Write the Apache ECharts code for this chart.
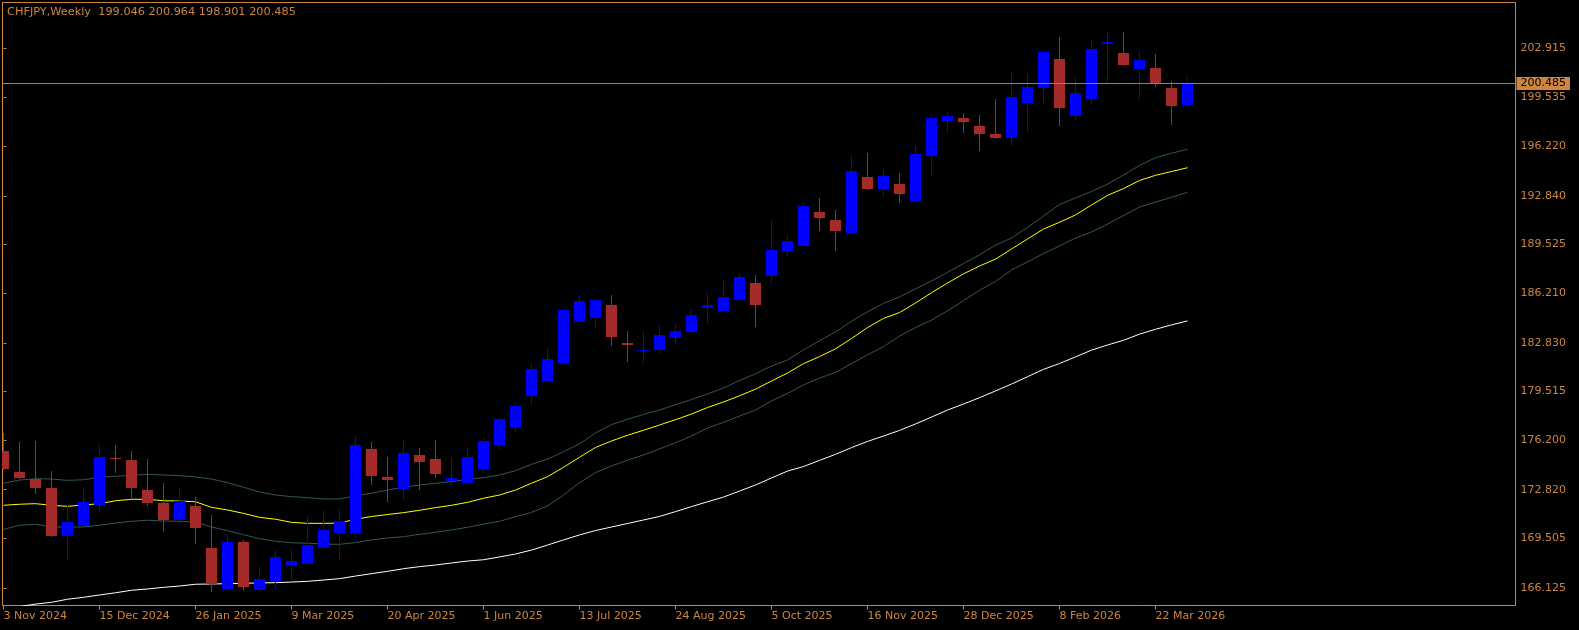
<!DOCTYPE html>
<html>
<head>
<meta charset="utf-8">
<script src="https://cdn.jsdelivr.net/npm/echarts@6.0.0/dist/echarts.min.js"></script>
<style>
html,body{margin:0;padding:0;background:#000;}
#chart{width:1579px;height:630px;}
</style>
</head>
<body>
<div id="chart"></div>
<script>
// ---- data ----
const symbolName = 'CHFJPY,Weekly';
const weeks = [
 '2024-11-03','2024-11-10','2024-11-17','2024-11-24','2024-12-01','2024-12-08','2024-12-15','2024-12-22','2024-12-29',
 '2025-01-05','2025-01-12','2025-01-19','2025-01-26','2025-02-02','2025-02-09','2025-02-16','2025-02-23',
 '2025-03-02','2025-03-09','2025-03-16','2025-03-23','2025-03-30','2025-04-06','2025-04-13','2025-04-20','2025-04-27',
 '2025-05-04','2025-05-11','2025-05-18','2025-05-25','2025-06-01','2025-06-08','2025-06-15','2025-06-22','2025-06-29',
 '2025-07-06','2025-07-13','2025-07-20','2025-07-27','2025-08-03','2025-08-10','2025-08-17','2025-08-24','2025-08-31',
 '2025-09-07','2025-09-14','2025-09-21','2025-09-28','2025-10-05','2025-10-12','2025-10-19','2025-10-26',
 '2025-11-02','2025-11-09','2025-11-16','2025-11-23','2025-11-30','2025-12-07','2025-12-14','2025-12-21','2025-12-28',
 '2026-01-04','2026-01-11','2026-01-18','2026-01-25','2026-02-01','2026-02-08','2026-02-15','2026-02-22',
 '2026-03-01','2026-03-08','2026-03-15','2026-03-22','2026-03-29','2026-04-05'
];
const opens = [175.46,174.03,173.57,172.94,169.67,170.35,171.78,174.99,174.85,172.80,171.92,170.78,171.71,168.85,166.06,169.26,165.99,166.60,167.69,167.78,168.87,169.87,169.87,175.59,173.69,172.89,175.19,174.91,173.41,173.28,174.23,175.87,177.09,179.23,180.25,181.45,184.27,184.54,185.41,182.82,182.29,182.36,183.18,183.59,185.22,185.02,185.77,186.91,187.40,189.10,189.45,191.74,191.20,190.31,194.13,193.31,193.65,192.49,195.56,197.94,198.15,197.60,197.06,196.80,199.17,200.21,202.16,198.30,199.44,203.21,202.57,201.50,201.55,200.19,199.046];
const highs = [176.66,176.07,176.14,174.10,171.85,172.99,175.87,175.87,175.46,174.91,173.28,172.94,172.33,171.10,169.80,169.39,167.62,168.71,168.78,171.05,171.46,171.53,176.48,176.07,175.05,176.21,175.66,176.21,174.98,175.73,176.34,177.71,178.73,181.45,182.48,185.13,186.09,185.81,186.09,183.63,183.63,184.04,184.11,185.13,186.22,187.13,187.59,187.45,191.20,190.18,192.35,192.69,191.88,195.63,195.76,194.60,194.40,196.24,198.35,198.55,198.49,198.35,199.44,201.35,201.14,202.71,203.66,200.94,203.39,204.00,204.00,202.71,202.51,200.67,200.964];
const lows = [174.15,173.53,172.53,169.60,167.96,170.26,171.21,173.98,172.28,171.71,169.96,170.50,169.14,165.85,165.94,165.92,165.87,166.06,166.60,167.69,168.78,168.03,169.49,173.14,171.98,172.14,172.82,173.64,173.09,173.20,173.96,175.52,176.68,178.59,180.20,181.38,184.18,183.86,182.63,181.54,181.48,182.09,182.70,183.45,184.13,184.95,185.68,183.93,186.93,188.70,189.36,190.45,189.10,190.25,193.25,192.78,192.35,192.42,194.13,197.12,197.12,195.90,196.71,196.26,197.21,199.05,197.62,198.03,199.12,200.46,201.71,199.46,200.28,197.69,198.901];
const closes = [174.23,173.62,172.94,169.67,170.62,171.98,175.05,174.95,172.94,171.94,170.78,172.03,170.23,166.40,169.26,166.19,166.74,168.24,167.96,169.05,170.07,170.69,175.87,173.76,173.48,175.32,174.73,173.91,173.62,175.05,176.14,177.63,178.53,181.04,181.73,185.06,185.68,185.75,183.25,182.70,182.36,183.36,183.63,184.72,185.41,185.95,187.31,185.43,189.15,189.77,192.15,191.35,190.47,194.54,193.31,194.19,192.97,195.69,198.15,198.28,197.87,197.06,196.78,199.58,200.26,202.64,198.85,199.85,202.85,203.32,201.78,202.10,200.53,198.98,200.485];
const bandUpper = [173.26,173.48,173.57,173.55,173.46,173.50,173.67,173.74,173.80,173.87,173.82,173.78,173.69,173.55,173.30,172.99,172.67,172.46,172.35,172.28,172.19,172.19,172.41,172.58,172.80,172.99,173.14,173.26,173.37,173.53,173.64,173.82,174.12,174.55,174.91,175.41,175.94,176.69,177.26,177.62,177.95,178.25,178.61,178.97,179.34,179.75,180.26,180.72,181.25,181.66,182.35,182.97,183.57,184.30,184.94,185.52,185.96,186.50,187.04,187.63,188.23,188.83,189.48,189.97,190.69,191.47,192.25,192.70,193.14,193.64,194.26,194.91,195.44,195.75,196.01];
const maMid = [171.76,171.83,171.87,171.76,171.69,171.78,171.87,172.07,172.17,172.17,172.07,172.05,172.00,171.62,171.44,171.21,170.94,170.81,170.60,170.53,170.53,170.55,170.81,171.00,171.13,171.26,171.42,171.60,171.76,171.96,172.24,172.46,172.80,173.26,173.71,174.35,175.03,175.70,176.14,176.53,176.87,177.23,177.59,177.98,178.42,178.80,179.22,179.67,180.23,180.77,181.41,181.89,182.42,183.12,183.87,184.49,184.89,185.54,186.24,186.90,187.53,188.06,188.53,189.22,189.90,190.58,191.04,191.54,192.22,192.87,193.34,193.89,194.24,194.50,194.76];
const bandLower = [170.12,170.40,170.47,170.28,170.28,170.28,170.40,170.55,170.67,170.74,170.69,170.67,170.62,170.28,170.03,169.76,169.48,169.31,169.21,169.17,169.12,169.10,169.22,169.40,169.53,169.62,169.78,169.92,170.08,170.26,170.47,170.67,170.98,171.28,171.71,172.46,173.30,173.99,174.44,174.83,175.19,175.60,176.02,176.48,177.03,177.41,177.84,178.25,178.87,179.38,179.96,180.43,180.81,181.42,182.01,182.57,183.29,183.87,184.38,185.01,185.70,186.41,187.01,187.79,188.34,188.91,189.43,189.97,190.38,190.92,191.50,192.08,192.42,192.74,193.08];
const maLong = [164.63,164.86,165.03,165.15,165.36,165.49,165.65,165.80,165.97,166.06,166.17,166.26,166.38,166.40,166.42,166.45,166.47,166.49,166.53,166.58,166.67,166.76,166.94,167.10,167.26,167.44,167.58,167.69,167.83,167.96,168.05,168.24,168.44,168.71,169.05,169.40,169.74,170.04,170.28,170.52,170.76,171.00,171.33,171.67,172.00,172.32,172.73,173.14,173.62,174.09,174.40,174.82,175.23,175.69,176.11,176.48,176.86,177.30,177.77,178.25,178.66,179.09,179.55,180.02,180.52,181.02,181.42,181.87,182.33,182.68,183.00,183.42,183.75,184.05,184.32];
const priceTicks = [166.125,169.505,172.820,176.200,179.515,182.830,186.210,189.525,192.840,196.220,199.535,202.915];
const dateTickIndex = [0,6,12,18,24,30,36,42,48,54,60,66,72];
const monthNames = ['Jan','Feb','Mar','Apr','May','Jun','Jul','Aug','Sep','Oct','Nov','Dec'];
const lastPrice = 200.485;

// ---- styles ----
const FG = '#CD853F';
const FONT = 'DejaVu Sans';
const UP = '#0000FF';
const DOWN = '#A52A2A';

function fmtDate(s) {
  const p = s.split('-');
  return parseInt(p[2], 10) + ' ' + monthNames[parseInt(p[1], 10) - 1] + ' ' + p[0];
}
const n = opens.length;
const candleData = opens.map((o, i) => [i, o, closes[i], lows[i], highs[i]]);
const toXY = arr => arr.map((v, i) => [i, v]);
const titleText = symbolName + '  ' + opens[n-1].toFixed(3) + ' ' + highs[n-1].toFixed(3) + ' ' + lows[n-1].toFixed(3) + ' ' + closes[n-1].toFixed(3);

const chart = echarts.init(document.getElementById('chart'), null, {renderer: 'canvas'});
const gridLeft = 2.5, gridTop = 2.5, gridW = 1513, gridH = 603;
const barPx = 16, firstX = 3.5;

chart.setOption({
  backgroundColor: '#000',
  animation: false,
  graphic: [{
    type: 'text', left: 7, top: 6.5,
    style: { text: titleText, fill: FG, font: '11.3px "' + FONT + '"' }
  }],
  grid: { left: gridLeft, top: gridTop, width: gridW, height: gridH, show: true, borderColor: FG, borderWidth: 1, backgroundColor: 'transparent' },
  xAxis: {
    type: 'value',
    min: -(firstX - gridLeft) / barPx,
    max: (gridLeft + gridW - firstX) / barPx,
    axisLine: { show: false },
    splitLine: { show: false },
    axisTick: { show: true, length: 4, lineStyle: { color: FG }, customValues: dateTickIndex },
    axisLabel: {
      customValues: dateTickIndex,
      formatter: v => fmtDate(weeks[Math.round(v)]),
      color: FG, fontFamily: FONT, fontSize: 11, align: 'left', margin: 5
    }
  },
  yAxis: {
    type: 'value', position: 'right',
    min: 164.933, max: 206.014,
    axisLine: { show: false },
    splitLine: { show: false },
    axisTick: { show: true, length: 3, lineStyle: { color: FG }, customValues: priceTicks },
    axisLabel: {
      customValues: priceTicks,
      formatter: v => v.toFixed(3),
      color: FG, fontFamily: FONT, fontSize: 11, margin: 5
    }
  },
  series: [
    { type: 'line', data: toXY(maLong), showSymbol: false, symbol: 'none', lineStyle: { color: '#FFFFFF', width: 1 }, silent: true, z: 2 },
    { type: 'line', data: toXY(bandUpper), showSymbol: false, symbol: 'none', lineStyle: { color: '#355656', width: 1 }, silent: true, z: 2 },
    { type: 'line', data: toXY(bandLower), showSymbol: false, symbol: 'none', lineStyle: { color: '#355656', width: 1 }, silent: true, z: 2 },
    { type: 'line', data: toXY(maMid), showSymbol: false, symbol: 'none', lineStyle: { color: '#FFFF00', width: 1 }, silent: true, z: 2,
      markLine: {
        silent: true, symbol: ['none', 'none'],
        lineStyle: { color: '#778899', width: 1, type: 'solid' },
        label: { show: true, position: 'end', distance: 1, formatter: lastPrice.toFixed(3),
                 color: '#000', backgroundColor: FG, padding: [1, 4, 1, 4], fontFamily: FONT, fontSize: 11 },
        data: [{ yAxis: lastPrice }]
      }
    },
    {
      type: 'custom', z: 3, clip: true,
      data: candleData,
      encode: { x: 0, y: [1, 2, 3, 4] },
      renderItem: function (params, api) {
        const i = api.value(0), o = api.value(1), c = api.value(2), l = api.value(3), h = api.value(4);
        const pO = api.coord([i, o]), pC = api.coord([i, c]), pL = api.coord([i, l]), pH = api.coord([i, h]);
        const cx = pO[0];
        const color = c >= o ? UP : DOWN;
        const yH = Math.round(pH[1]), yL = Math.round(pL[1]);
        const top = Math.round(Math.min(pO[1], pC[1])), bot = Math.round(Math.max(pO[1], pC[1]));
        return {
          type: 'group',
          children: [
            { type: 'rect', shape: { x: Math.round(cx - 0.5), y: yH, width: 1, height: Math.max(1, yL - yH) }, style: { fill: color } },
            { type: 'rect', shape: { x: Math.round(cx - 5.5), y: top, width: 11, height: Math.max(1, bot - top) }, style: { fill: color } }
          ]
        };
      }
    }
  ]
});
</script>
</body>
</html>
